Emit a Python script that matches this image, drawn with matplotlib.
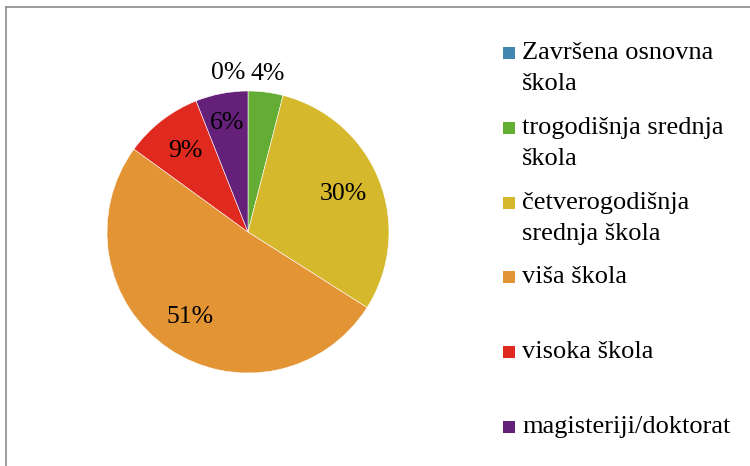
import numpy as np
import matplotlib
matplotlib.use('Agg')
import matplotlib.pyplot as plt
from matplotlib.lines import Line2D
from matplotlib.patches import Rectangle

plt.rcParams['font.family'] = 'serif'
plt.rcParams['font.serif'] = ['Liberation Serif', 'Times New Roman', 'DejaVu Serif']

# data
categories = ['Završena osnovna\nškola', 'trogodišnja srednja\nškola',
              'četverogodišnja\nsrednja škola', 'viša škola', 'visoka škola',
              'magisteriji/doktorat']
values = [0, 4, 30, 51, 9, 6]
colors = ['#3f86b1', '#64ad35', '#d5b82c', '#e39535', '#e0291f', '#65207a']

W, H = 750, 466
fig = plt.figure(figsize=(W / 100, H / 100), dpi=100)

# outer frame (only left and top edges are visible)
fig.add_artist(Line2D([6 / W, 6 / W], [0, 1 - 7 / H], color='#8c8c8c', lw=1.2))
fig.add_artist(Line2D([6 / W, 1], [1 - 7 / H, 1 - 7 / H], color='#8c8c8c', lw=1.2))

# pie
cx, cy, r = 248, 232, 141
ax = fig.add_axes([(cx - r) / W, (H - cy - r) / H, 2 * r / W, 2 * r / H])
wedges, texts, autotexts = ax.pie(values, colors=colors, startangle=90,
                                  counterclock=False, autopct='%d%%',
                                  pctdistance=0.73,
                                  wedgeprops=dict(edgecolor='white', linewidth=0.4),
                                  textprops=dict(fontsize=18.5, color='black'))
ax.set_xlim(-1, 1)
ax.set_ylim(-1, 1)

# small slices get their labels outside, like the original
for w, t, v in zip(wedges, autotexts, values):
    ang = np.deg2rad((w.theta1 + w.theta2) / 2)
    if v < 5:
        x, y = 1.13 * np.cos(ang), 1.13 * np.sin(ang)
        if v == 0:
            x -= 0.14
        t.set_position((x, y))
    elif v == 6:
        t.set_position((0.79 * np.cos(ang), 0.79 * np.sin(ang)))

# legend drawn by hand so the marker sits on the first line
for i, (lab, c) in enumerate(zip(categories, colors)):
    top = 42 + i * 74.8
    fig.add_artist(Rectangle((503 / W, 1 - (top + 17) / H), 12 / W, 12 / H,
                             facecolor=c, edgecolor='none'))
    fig.text(522 / W, 1 - top / H, lab, fontsize=19, va='top', ha='left',
             color='black', linespacing=1.55)

fig.savefig('out.png', dpi=100)
